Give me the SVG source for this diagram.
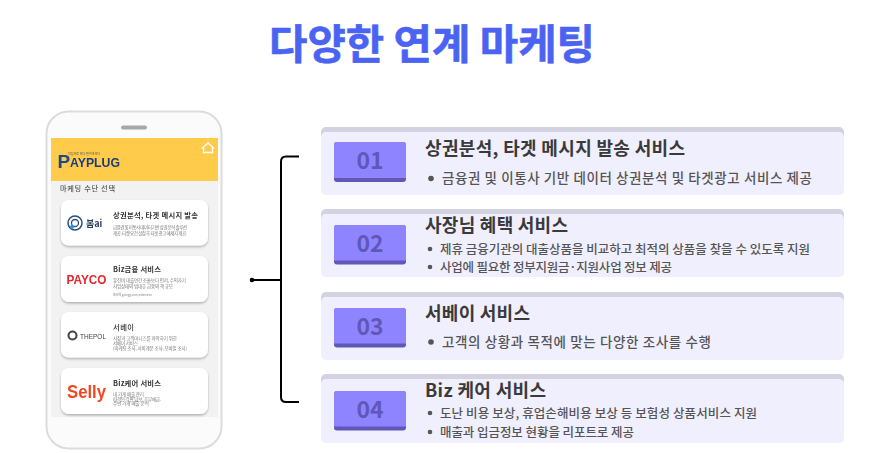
<svg xmlns="http://www.w3.org/2000/svg" width="872" height="453" viewBox="0 0 872 453">
<style>
text{font-family:"Noto Sans CJK KR","Noto Sans",sans-serif}
.panel{fill:#f0effd}.ptop{fill:#d3d2e0}
.bd{fill:#8f84ff}.bdb{fill:#5f58b8}
.num{font-size:23px;font-weight:700;fill:#5f58b8;text-anchor:middle}
.h{font-size:18px;font-weight:700;fill:#3a3a3a}
.b{font-size:13.500px;font-weight:500;fill:#555}
.b2{font-size:12.500px;font-weight:500;fill:#555}
.dot{fill:#555}
.card{fill:#fff;filter:url(#sh)}
.ct{font-size:7.300px;font-weight:700;fill:#333}
.cs{font-size:4.500px;fill:#777}
.lat{font-family:"Liberation Sans",sans-serif;font-weight:700}
.br{fill:none;stroke:#000;stroke-width:2}
</style>
<defs>
<filter id="sh" x="-10%" y="-10%" width="120%" height="125%"><feDropShadow dx="0" dy="1.500" stdDeviation="1.200" flood-color="#000" flood-opacity=".28"/></filter>
<filter id="soft" x="-5%" y="-5%" width="110%" height="110%"><feGaussianBlur stdDeviation=".3"/></filter>
</defs>
<rect width="872" height="453" fill="#fff"/>
<text id="title" x="269" y="59" font-size="41" font-weight="700" fill="#4a63f2" stroke="#4a63f2" stroke-width=".6" textLength="326" lengthAdjust="spacingAndGlyphs">다양한 연계 마케팅</text>

<g id="phone" filter="url(#soft)">
<rect x="46.500" y="111.500" width="175" height="337" rx="22" fill="#fbfbfb" stroke="#dcdcdc" stroke-width="2"/>
<rect x="121" y="125.500" width="26" height="4" rx="2" fill="#a8a8a8"/>
<rect x="51" y="138" width="167" height="279" fill="#f2f2f2"/>
<rect x="51" y="138" width="167" height="43" fill="#ffcb4c"/>
<path d="M202 148.500l6-5.500 6 5.500M203.500 147v5.500h9V147" fill="none" stroke="#fff" stroke-width="1.300"/>
<g id="payplug-logo">
<text class="lat" x="57.500" y="167.500" font-size="19" fill="#1f4a8a">P</text>
<text class="lat" x="70" y="167" font-size="12.500" fill="#1f3a7a" textLength="50" lengthAdjust="spacingAndGlyphs">AYPLUG</text>
<text x="68" y="155" font-size="3" fill="#555">작업으로 보다 편리해 보다</text>
</g>
<text x="60" y="191" font-size="7.200" font-weight="500" fill="#555" textLength="55">마케팅 수단 선택</text>

<g id="card1"><rect class="card" x="61" y="200" width="147" height="45.500" rx="8"/>
<circle cx="75" cy="223" r="7" fill="none" stroke="#2c4f7a" stroke-width="1.500"/><circle cx="75" cy="223" r="3.500" fill="none" stroke="#2c4f7a" stroke-width="1.300"/><circle cx="72" cy="227" r="2" fill="#2f8fe8"/>
<text x="86" y="226.500" font-size="9" font-weight="700" fill="#2c4058">봄ai</text>
<text class="ct" x="113" y="218" textLength="85">상권분석, 타겟 메시지 발송</text>
<text class="cs" x="113" y="229" textLength="74">금융권 및 이통사 데이터 기반 상권 분석 솔루션</text>
<text class="cs" x="113" y="235" textLength="74">제공. 타켓 요건 설정 후 타겟 광고 메세지 제공.</text></g>

<g id="card2"><rect class="card" x="61" y="256" width="147" height="46" rx="8"/>
<text class="lat" x="66.500" y="284" font-size="12.500" fill="#e6262e" textLength="40" lengthAdjust="spacingAndGlyphs">PAYCO</text>
<text class="ct" x="113" y="272" textLength="48">Biz금융 서비스</text>
<text class="cs" x="113" y="282" textLength="73">유진비 대출연간 조홀보다 먼저, 수익자기</text>
<text class="cs" x="113" y="287.500" textLength="60">사업상태의 범대휴 금융의 핵 규모</text>
<text x="113" y="296" font-size="3" fill="#888" textLength="39">혜내역 gologg.com/extension</text></g>

<g id="card3"><rect class="card" x="61" y="312" width="147" height="45.500" rx="8"/>
<circle cx="72.500" cy="335.500" r="4" fill="none" stroke="#444" stroke-width="2"/>
<text x="80" y="339" font-size="7" fill="#444" style="font-family:'Liberation Sans',sans-serif" textLength="26" lengthAdjust="spacingAndGlyphs">THEPOL</text>
<text class="ct" x="113" y="330" style="font-weight:500" textLength="21">서베이</text>
<text class="cs" x="113" y="340" textLength="64">사장과 고객마니즈를 파악하기 위한</text>
<text class="cs" x="113" y="345" textLength="25">서베이 서비스</text>
<text class="cs" x="113" y="349.500" textLength="74">(마케팅 조사, 서비개문 조사, 모바일 조사)</text></g>

<g id="card4"><rect class="card" x="61" y="368" width="147" height="46" rx="8"/>
<text class="lat" x="67" y="398" font-size="18" fill="#f04a22" textLength="39" lengthAdjust="spacingAndGlyphs">Selly</text>
<text class="ct" x="113" y="386" textLength="48">Biz케어 서비스</text>
<text class="cs" x="113" y="396" textLength="31">내 가게 매출 관리</text>
<text class="cs" x="113" y="400.500" textLength="48">파격된 각편 담보, 휴무예금.</text>
<text class="cs" x="113" y="405" textLength="36">주변 가게 매출 분석</text></g>
</g>

<g id="connectors">
<path class="br" d="M299 156.500H286Q281 156.500 281 161.500V397Q281 402 286 402H299"/>
<path class="br" d="M252 280H281"/>
<circle cx="252" cy="280" r="2.300" fill="#000"/>
</g>

<g id="item1"><rect class="ptop" x="321" y="127" width="523" height="40" rx="5"/><path class="panel" d="M321 137a5 5 0 0 1 5-5H839a5 5 0 0 1 5 5V190a5 5 0 0 1-5 5H326a5 5 0 0 1-5-5Z"/>
<rect class="bdb" x="334" y="142" width="72" height="40" rx="3"/><path class="bd" d="M334 145a3 3 0 0 1 3-3H403a3 3 0 0 1 3 3V178H334Z"/>
<text class="num" x="370" y="169">01</text>
<text class="h" x="425" y="155" textLength="260">상권분석, 타겟 메시지 발송 서비스</text>
<circle class="dot" cx="431" cy="178.500" r="2.800"/><text class="b" x="442" y="183" textLength="370">금융권 및 이통사 기반 데이터 상권분석 및 타겟광고 서비스 제공</text></g>

<g id="item2"><rect class="ptop" x="321" y="209" width="523" height="40" rx="5"/><path class="panel" d="M321 219a5 5 0 0 1 5-5H839a5 5 0 0 1 5 5V272a5 5 0 0 1-5 5H326a5 5 0 0 1-5-5Z"/>
<rect class="bdb" x="334" y="225" width="72" height="39.500" rx="3"/><path class="bd" d="M334 228a3 3 0 0 1 3-3H403a3 3 0 0 1 3 3V260.500H334Z"/>
<text class="num" x="370" y="252">02</text>
<text class="h" x="425" y="232" textLength="143">사장님 혜택 서비스</text>
<circle class="dot" cx="430" cy="249" r="2.300"/><text class="b2" x="440" y="253.500" textLength="370">제휴 금융기관의 대출상품을 비교하고 최적의 상품을 찾을 수 있도록 지원</text>
<circle class="dot" cx="430" cy="267" r="2.300"/><text class="b2" x="440" y="271.500" textLength="232">사업에 필요한 정부지원금·지원사업 정보 제공</text></g>

<g id="item3"><rect class="ptop" x="321" y="292" width="523" height="40" rx="5"/><path class="panel" d="M321 302a5 5 0 0 1 5-5H839a5 5 0 0 1 5 5V355a5 5 0 0 1-5 5H326a5 5 0 0 1-5-5Z"/>
<rect class="bdb" x="334" y="308" width="72" height="39.500" rx="3"/><path class="bd" d="M334 311a3 3 0 0 1 3-3H403a3 3 0 0 1 3 3V343.500H334Z"/>
<text class="num" x="370" y="335">03</text>
<text class="h" x="425" y="320" textLength="105">서베이 서비스</text>
<circle class="dot" cx="431" cy="342" r="2.800"/><text class="b" x="442" y="347" textLength="269">고객의 상황과 목적에 맞는 다양한 조사를 수행</text></g>

<g id="item4"><rect class="ptop" x="321" y="374" width="523" height="40" rx="5"/><path class="panel" d="M321 384a5 5 0 0 1 5-5H839a5 5 0 0 1 5 5V438a5 5 0 0 1-5 5H326a5 5 0 0 1-5-5Z"/>
<rect class="bdb" x="334" y="391" width="72" height="39.500" rx="3"/><path class="bd" d="M334 394a3 3 0 0 1 3-3H403a3 3 0 0 1 3 3V426.500H334Z"/>
<text class="num" x="370" y="418">04</text>
<text class="h" x="425" y="397" textLength="121">Biz 케어 서비스</text>
<circle class="dot" cx="430" cy="413" r="2.300"/><text class="b2" x="440" y="417.500" textLength="317">도난 비용 보상, 휴업손해비용 보상 등 보험성 상품서비스  지원</text>
<circle class="dot" cx="430" cy="432" r="2.300"/><text class="b2" x="440" y="436.500" textLength="194">매출과 입금정보 현황을 리포트로 제공</text></g>
</svg>
